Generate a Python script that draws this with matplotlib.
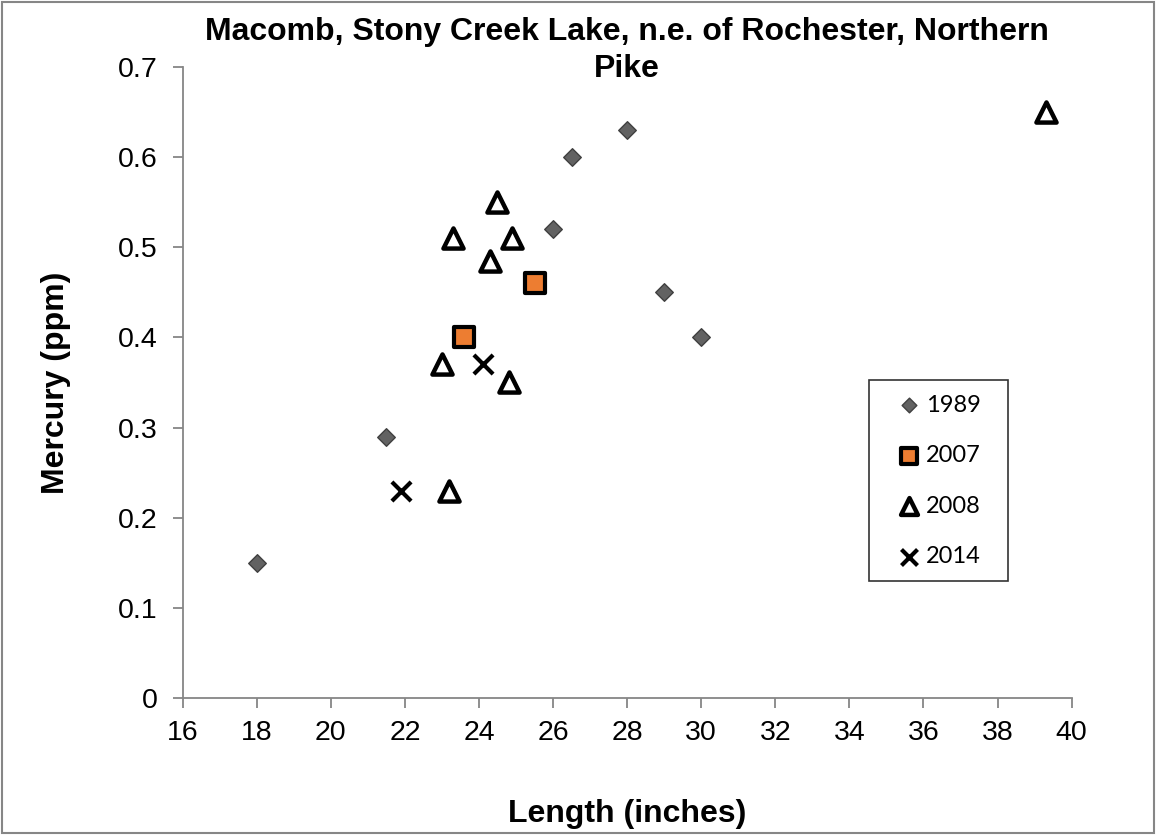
import matplotlib
matplotlib.use('Agg')
import matplotlib.pyplot as plt
from matplotlib.patches import Rectangle

# Data
x_1989 = [18.0, 21.5, 26.0, 26.5, 28.0, 29.0, 30.0]
y_1989 = [0.15, 0.29, 0.52, 0.60, 0.63, 0.45, 0.40]

x_2007 = [23.6, 25.5]
y_2007 = [0.40, 0.46]

x_2008 = [39.3, 24.5, 23.3, 24.9, 24.3, 23.0, 24.8, 23.2]
y_2008 = [0.65, 0.55, 0.51, 0.51, 0.485, 0.37, 0.35, 0.23]

x_2014 = [21.9, 24.1]
y_2014 = [0.23, 0.37]

x_ticks = list(range(16, 41, 2))
y_ticks = [0, 0.1, 0.2, 0.3, 0.4, 0.5, 0.6, 0.7]

plt.rcParams['font.family'] = ['Liberation Sans', 'DejaVu Sans']

fig = plt.figure(figsize=(11.56, 8.35), dpi=100)
ax = fig.add_axes([0.158, 0.164, 0.769, 0.756])

# Series
ax.scatter(x_1989, y_1989, marker='D', s=80, facecolor='#626262', edgecolor='#404040',
           linewidth=1, label='1989', zorder=3)
ax.scatter(x_2007, y_2007, marker='s', s=210, facecolor='#ED7D31', edgecolor='black',
           linewidth=3, label='2007', zorder=3)
ax.scatter(x_2008, y_2008, marker='^', s=210, facecolor='white', edgecolor='black',
           linewidth=3.2, label='2008', zorder=3)
ax.scatter(x_2014, y_2014, marker='x', s=190, color='black', linewidth=3,
           label='2014', zorder=3)

ax.set_xlim(16, 40)
ax.set_ylim(0, 0.7)
ax.set_xticks(x_ticks)
ax.set_yticks(y_ticks)
ax.set_yticklabels(['0'] + [f'{v:.1f}' for v in y_ticks[1:]])

for side in ['top', 'right']:
    ax.spines[side].set_visible(False)
for side in ['left', 'bottom']:
    ax.spines[side].set_color('#868686')
    ax.spines[side].set_linewidth(1.3)
ax.tick_params(axis='both', which='major', labelsize=20.5, color='#868686',
               width=1.3, length=7, direction='out')
ax.tick_params(axis='x', pad=9)
ax.tick_params(axis='y', pad=11)

# y given explicitly so matplotlib does not push the title above the axes
ax.set_title('Macomb, Stony Creek Lake, n.e. of Rochester, Northern\nPike',
             fontsize=23, fontweight='bold', y=1.0, pad=-7, linespacing=1.3)
ax.set_xlabel('Length (inches)', fontsize=23, fontweight='bold', labelpad=38)
ax.set_ylabel('Mercury (ppm)', fontsize=23, fontweight='bold', labelpad=34)

leg = ax.legend(loc='lower left', bbox_to_anchor=(0.772, 0.185, 0.156, 0.317),
                mode='expand', borderaxespad=0, frameon=True, fancybox=False,
                handletextpad=-0.4, labelspacing=1.25, borderpad=0.6,
                handlelength=2.2, prop={'family': 'Lato', 'size': 17},
                scatterpoints=1)
leg.get_frame().set_edgecolor('black')
leg.get_frame().set_linewidth(1.2)
for h in leg.legend_handles:
    h.set_sizes([h.get_sizes()[0] * 0.7])

# grey border around the whole figure
fig.patches.append(Rectangle((0.002, 0.002), 0.996, 0.996, transform=fig.transFigure,
                             fill=False, edgecolor='#868686', linewidth=1.5))

fig.savefig('out.png', dpi=100)
